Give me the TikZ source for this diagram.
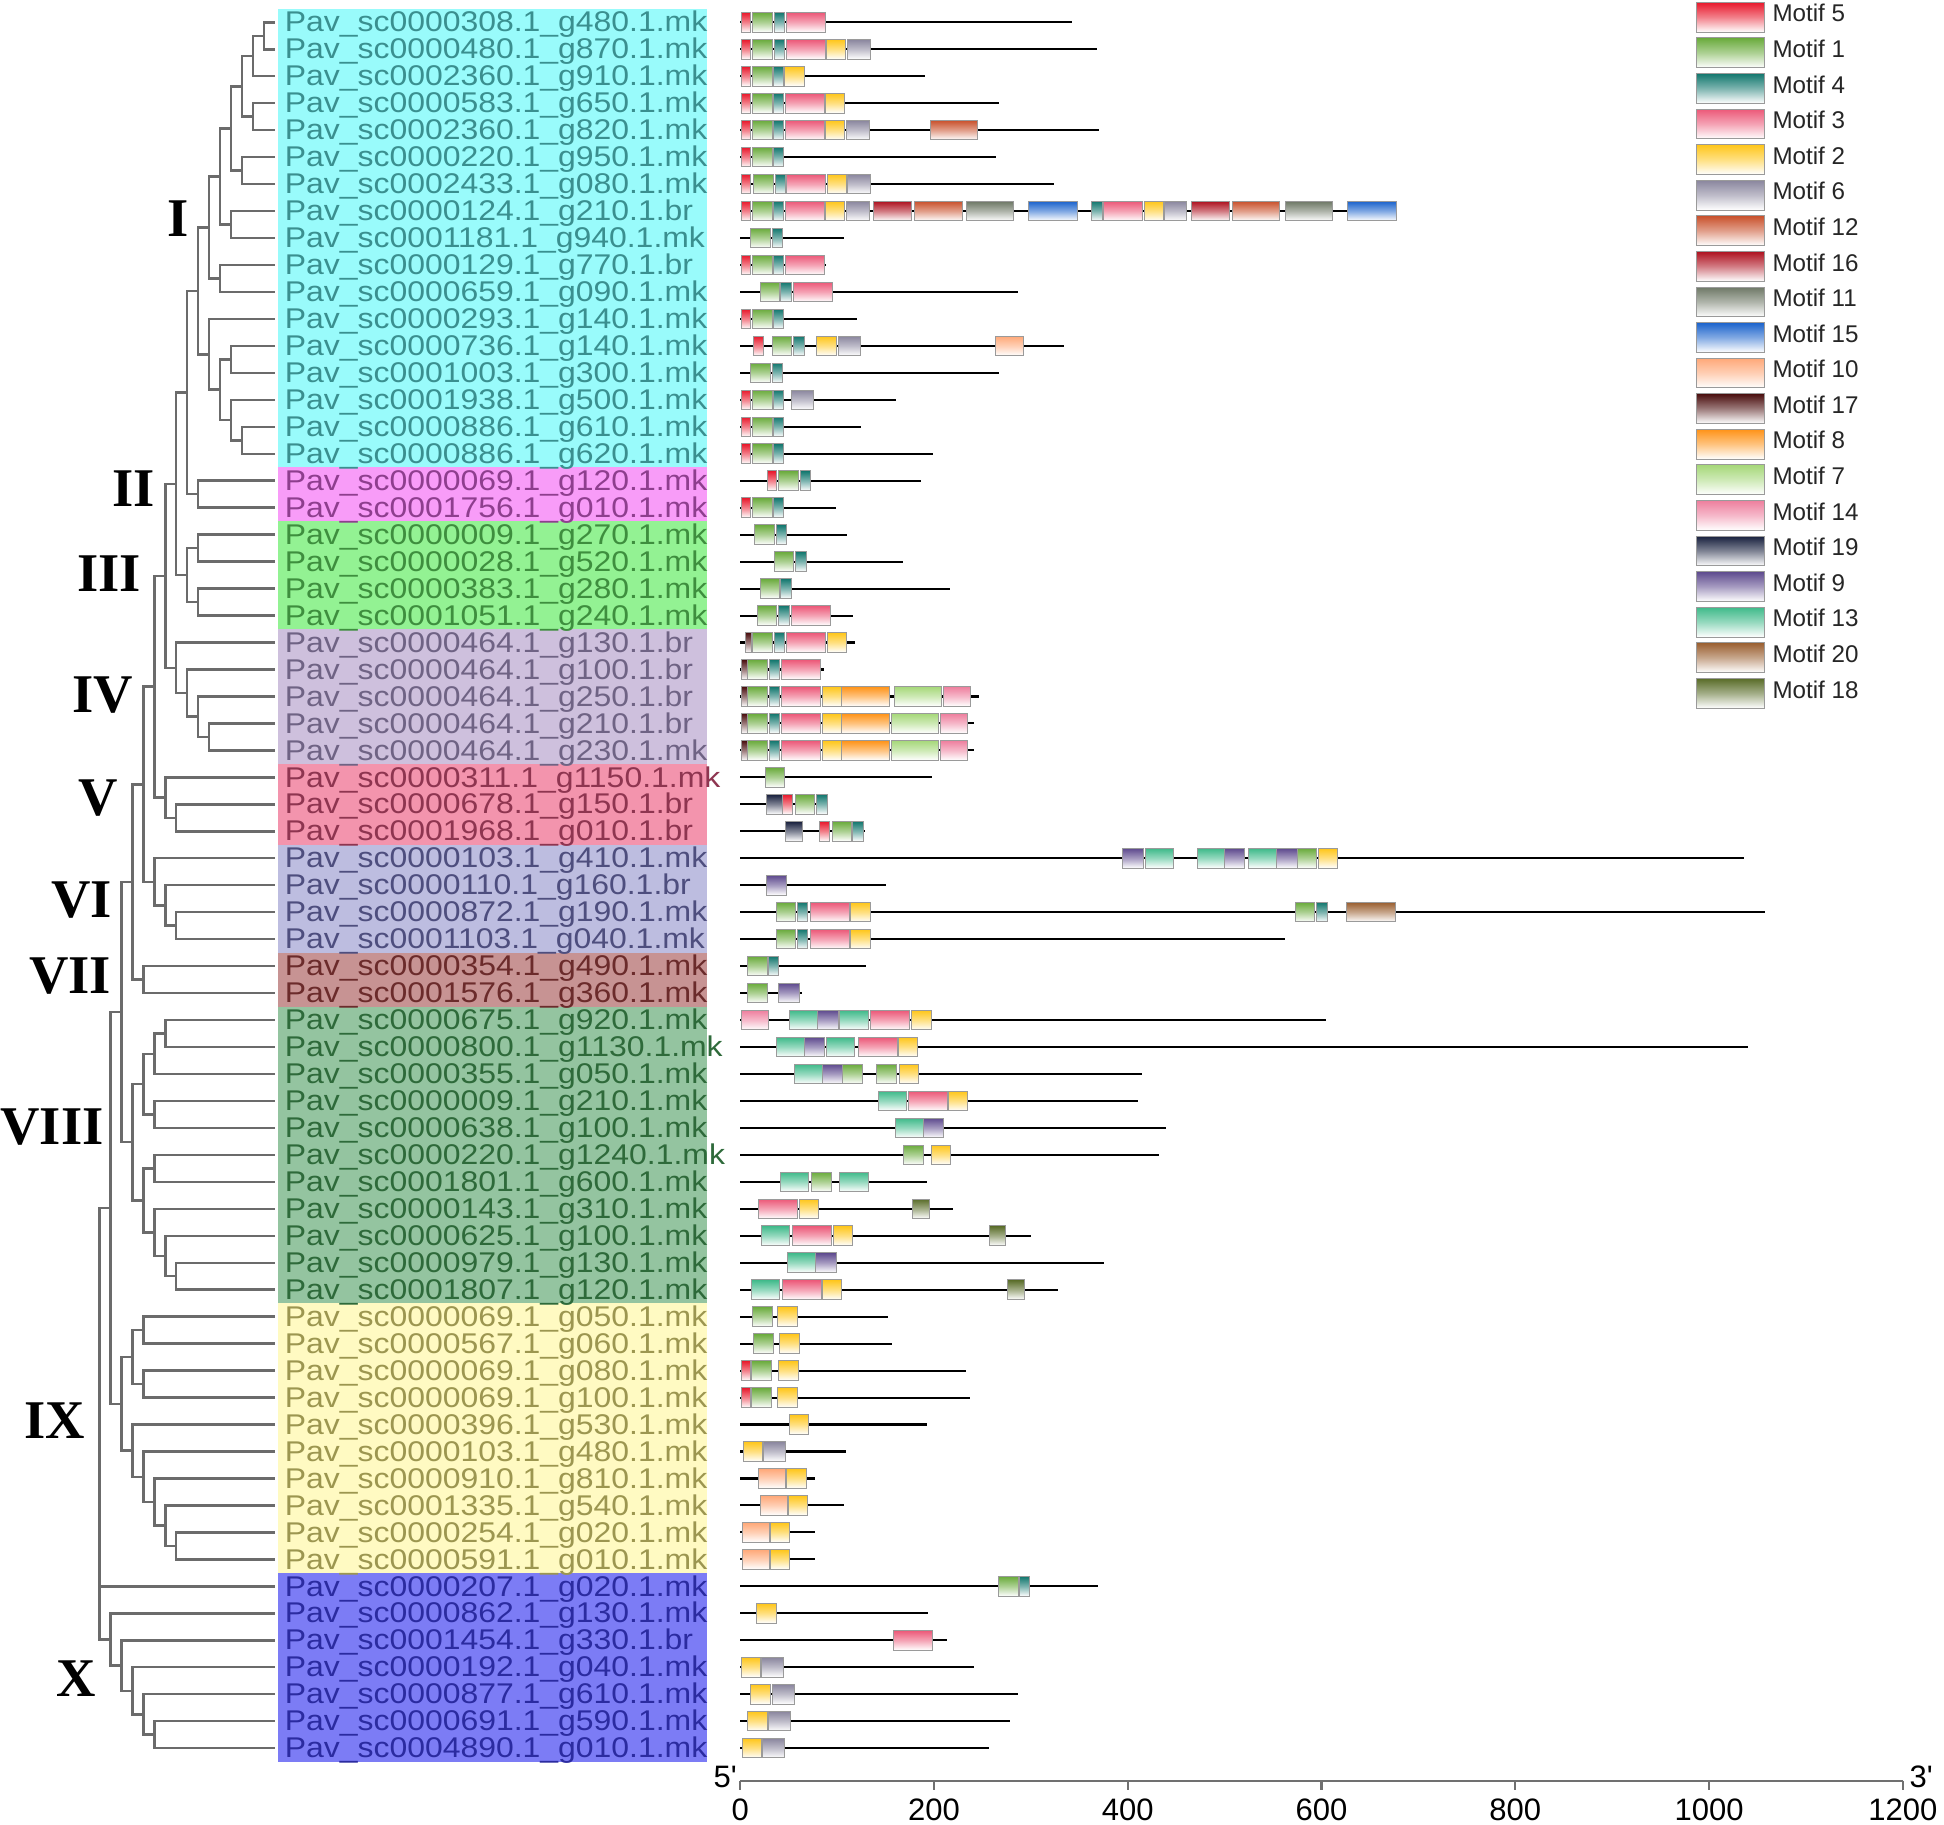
\documentclass[tikz,border=0pt]{standalone}
\usepackage{fontspec}
\newfontfamily\labfont[FakeStretch=1.12]{Liberation Sans}
\newfontfamily\sansf{Liberation Sans}
\newfontfamily\romfont{Liberation Serif}
\definecolor{m5}{HTML}{E8192C}
\definecolor{m1}{HTML}{6AAB3C}
\definecolor{m4}{HTML}{12776E}
\definecolor{m3}{HTML}{EC5878}
\definecolor{m2}{HTML}{FFC61A}
\definecolor{m6}{HTML}{8A869E}
\definecolor{m12}{HTML}{C9512C}
\definecolor{m16}{HTML}{AE111F}
\definecolor{m11}{HTML}{6E7866}
\definecolor{m15}{HTML}{1B63CC}
\definecolor{m10}{HTML}{FFA878}
\definecolor{m17}{HTML}{4A0E0E}
\definecolor{m8}{HTML}{FF9318}
\definecolor{m7}{HTML}{A6D87A}
\definecolor{m14}{HTML}{EE7F9E}
\definecolor{m19}{HTML}{18203E}
\definecolor{m9}{HTML}{5E4A8E}
\definecolor{m13}{HTML}{3FBA8A}
\definecolor{m20}{HTML}{9A5F30}
\definecolor{m18}{HTML}{596C28}
\definecolor{boxgray}{HTML}{9A9A9A}
\definecolor{treegray}{HTML}{6B6B6B}
\definecolor{axgray}{HTML}{707070}
\definecolor{tI}{HTML}{3A8F8F}\definecolor{bgI}{HTML}{99FBFB}
\definecolor{tII}{HTML}{8E3E8E}\definecolor{bgII}{HTML}{F89CF8}
\definecolor{tIII}{HTML}{3E8E3E}\definecolor{bgIII}{HTML}{93F293}
\definecolor{tIV}{HTML}{6F6384}\definecolor{bgIV}{HTML}{CEC0DD}
\definecolor{tV}{HTML}{8E3550}\definecolor{bgV}{HTML}{F394AD}
\definecolor{tVI}{HTML}{4E4E7E}\definecolor{bgVI}{HTML}{BDBDE0}
\definecolor{tVII}{HTML}{6B2B2B}\definecolor{bgVII}{HTML}{C79393}
\definecolor{tVIII}{HTML}{2E6A3A}\definecolor{bgVIII}{HTML}{94C4A0}
\definecolor{tIX}{HTML}{9C9650}\definecolor{bgIX}{HTML}{FFFAC2}
\definecolor{tX}{HTML}{2B2BA0}\definecolor{bgX}{HTML}{7C7CF5}
\def\mwarr{{0,20,20,40,11,10,23,49,49,21,28,48,49,29,28,50,39,7,17,17,50}}
\newcommand\xTn[3]{\coordinate (#1) at ({221.8-8.85*#2},{18+21.75*(#3)});}
\newcommand\xJn[3]{\draw[tree] (#2) -| (#1) |- (#3);}
\newcommand\xBr[2]{\draw[tree] (#1) |- (#2);}
\newcommand\xLab[5]{\node[lab,text=#2] (g#1) at (229.5,{18+21.75*#1+7.8}) {Pav\_sc#3.1\_g#4.1.#5};}
\newcommand\xGrp[3]{\fill[#1] (224,{18+21.75*(#2-0.5)}) rectangle (570,{18+21.75*(#3+0.5)});}
\newcommand\xGene[3]{%
  \draw[gline] (597,{18+21.75*#1}) -- ({597+0.7815*#2},{18+21.75*#1});
  \foreach \mm/\ss in {#3} {%
    \pgfmathsetmacro\ww{\mwarr[\mm]}%
    \path[mb=m\mm] ({597+0.7815*\ss},{18+21.75*#1-7.9}) rectangle ({597+0.7815*(\ss+\ww)},{18+21.75*#1+7.9});
  }%
}
\begin{document}
\begin{tikzpicture}[x=1pt,y=-1pt,
  tree/.style={draw=treegray,line width=2pt},
  gline/.style={draw=black,line width=1.7pt},
  mb/.style={draw=boxgray,line width=0.8pt,top color=#1,bottom color=white,middle color=#1!55},
  lab/.style={anchor=base west,inner sep=0pt,font=\labfont\fontsize{23}{23}\selectfont},
  rom/.style={anchor=center,inner sep=0pt,font=\romfont\bfseries\fontsize{44}{44}\selectfont},
  legt/.style={anchor=base west,inner sep=0pt,text=black!85,font=\sansf\fontsize{19.5}{19.5}\selectfont},
  axt/.style={anchor=base,inner sep=0pt,font=\sansf\fontsize{25}{25}\selectfont},
  axisl/.style={draw=axgray,line width=1.8pt}]
\fill[white] (0,0) rectangle (1568,1472);
\useasboundingbox (0,0) rectangle (1568,1472);
% group backgrounds
\xGrp{bgI}{0}{16}
\xGrp{bgII}{17}{18}
\xGrp{bgIII}{19}{22}
\xGrp{bgIV}{23}{27}
\xGrp{bgV}{28}{30}
\xGrp{bgVI}{31}{34}
\xGrp{bgVII}{35}{36}
\xGrp{bgVIII}{37}{47}
\xGrp{bgIX}{48}{57}
\xGrp{bgX}{58}{64}
% labels
\xLab{0}{tI}{0000308}{480}{mk}
\xLab{1}{tI}{0000480}{870}{mk}
\xLab{2}{tI}{0002360}{910}{mk}
\xLab{3}{tI}{0000583}{650}{mk}
\xLab{4}{tI}{0002360}{820}{mk}
\xLab{5}{tI}{0000220}{950}{mk}
\xLab{6}{tI}{0002433}{080}{mk}
\xLab{7}{tI}{0000124}{210}{br}
\xLab{8}{tI}{0001181}{940}{mk}
\xLab{9}{tI}{0000129}{770}{br}
\xLab{10}{tI}{0000659}{090}{mk}
\xLab{11}{tI}{0000293}{140}{mk}
\xLab{12}{tI}{0000736}{140}{mk}
\xLab{13}{tI}{0001003}{300}{mk}
\xLab{14}{tI}{0001938}{500}{mk}
\xLab{15}{tI}{0000886}{610}{mk}
\xLab{16}{tI}{0000886}{620}{mk}
\xLab{17}{tII}{0000069}{120}{mk}
\xLab{18}{tII}{0001756}{010}{mk}
\xLab{19}{tIII}{0000009}{270}{mk}
\xLab{20}{tIII}{0000028}{520}{mk}
\xLab{21}{tIII}{0000383}{280}{mk}
\xLab{22}{tIII}{0001051}{240}{mk}
\xLab{23}{tIV}{0000464}{130}{br}
\xLab{24}{tIV}{0000464}{100}{br}
\xLab{25}{tIV}{0000464}{250}{br}
\xLab{26}{tIV}{0000464}{210}{br}
\xLab{27}{tIV}{0000464}{230}{mk}
\xLab{28}{tV}{0000311}{1150}{mk}
\xLab{29}{tV}{0000678}{150}{br}
\xLab{30}{tV}{0001968}{010}{br}
\xLab{31}{tVI}{0000103}{410}{mk}
\xLab{32}{tVI}{0000110}{160}{br}
\xLab{33}{tVI}{0000872}{190}{mk}
\xLab{34}{tVI}{0001103}{040}{mk}
\xLab{35}{tVII}{0000354}{490}{mk}
\xLab{36}{tVII}{0001576}{360}{mk}
\xLab{37}{tVIII}{0000675}{920}{mk}
\xLab{38}{tVIII}{0000800}{1130}{mk}
\xLab{39}{tVIII}{0000355}{050}{mk}
\xLab{40}{tVIII}{0000009}{210}{mk}
\xLab{41}{tVIII}{0000638}{100}{mk}
\xLab{42}{tVIII}{0000220}{1240}{mk}
\xLab{43}{tVIII}{0001801}{600}{mk}
\xLab{44}{tVIII}{0000143}{310}{mk}
\xLab{45}{tVIII}{0000625}{100}{mk}
\xLab{46}{tVIII}{0000979}{130}{mk}
\xLab{47}{tVIII}{0001807}{120}{mk}
\xLab{48}{tIX}{0000069}{050}{mk}
\xLab{49}{tIX}{0000567}{060}{mk}
\xLab{50}{tIX}{0000069}{080}{mk}
\xLab{51}{tIX}{0000069}{100}{mk}
\xLab{52}{tIX}{0000396}{530}{mk}
\xLab{53}{tIX}{0000103}{480}{mk}
\xLab{54}{tIX}{0000910}{810}{mk}
\xLab{55}{tIX}{0001335}{540}{mk}
\xLab{56}{tIX}{0000254}{020}{mk}
\xLab{57}{tIX}{0000591}{010}{mk}
\xLab{58}{tX}{0000207}{020}{mk}
\xLab{59}{tX}{0000862}{130}{mk}
\xLab{60}{tX}{0001454}{330}{br}
\xLab{61}{tX}{0000192}{040}{mk}
\xLab{62}{tX}{0000877}{610}{mk}
\xLab{63}{tX}{0000691}{590}{mk}
\xLab{64}{tX}{0004890}{010}{mk}
% tree
\foreach \i in {0,...,64} {\coordinate (L\i) at (221.8,{18+21.75*\i});}
\xTn{n01}{1}{0.5}\xJn{n01}{L0}{L1}
\xTn{n012}{2}{1.25}\xJn{n012}{n01}{L2}
\xTn{n34}{2}{3.5}\xJn{n34}{L3}{L4}
\xTn{n04}{3}{2.375}\xJn{n04}{n012}{n34}
\xTn{n56}{3}{5.5}\xJn{n56}{L5}{L6}
\xTn{n06}{4}{3.9375}\xJn{n06}{n04}{n56}
\xTn{n78}{4}{7.5}\xJn{n78}{L7}{L8}
\xTn{n08}{5}{5.71875}\xJn{n08}{n06}{n78}
\xTn{n910}{5}{9.5}\xJn{n910}{L9}{L10}
\xTn{nA}{6}{7.609375}\xJn{nA}{n08}{n910}
\xTn{n1213}{4}{12.5}\xJn{n1213}{L12}{L13}
\xTn{n1516}{3}{15.5}\xJn{n1516}{L15}{L16}
\xTn{n1416}{4}{14.75}\xJn{n1416}{L14}{n1516}
\xTn{n1216}{5}{13.625}\xJn{n1216}{n1213}{n1416}
\xTn{nB}{6}{12.3125}\xJn{nB}{L11}{n1216}
\xTn{nI}{7}{9.9609}\xJn{nI}{nA}{nB}
\xTn{nII}{7}{17.5}\xJn{nII}{L17}{L18}
\xTn{nI2}{8}{13.7305}\xJn{nI2}{nI}{nII}
\xTn{n1920}{7}{19.5}\xJn{n1920}{L19}{L20}
\xTn{n2122}{7}{21.5}\xJn{n2122}{L21}{L22}
\xTn{nIII}{8}{20.5}\xJn{nIII}{n1920}{n2122}
\xTn{nI3}{9}{17.1152}\xJn{nI3}{nI2}{nIII}
\xTn{n2627}{6}{26.5}\xJn{n2627}{L26}{L27}
\xTn{n2527}{7}{25.75}\xJn{n2527}{L25}{n2627}
\xTn{n2427}{8}{24.875}\xJn{n2427}{L24}{n2527}
\xTn{nIV}{9}{23.9375}\xJn{nIV}{L23}{n2427}
\xTn{nI4}{10}{20.5264}\xJn{nI4}{nI3}{nIV}
\xTn{n2930}{9}{29.5}\xJn{n2930}{L29}{L30}
\xTn{nV}{10}{28.75}\xJn{nV}{L28}{n2930}
\xTn{nI5}{11}{24.6382}\xJn{nI5}{nI4}{nV}
\xTn{n3334}{9}{33.5}\xJn{n3334}{L33}{L34}
\xTn{n3234}{10}{32.75}\xJn{n3234}{L32}{n3334}
\xTn{nVI}{11}{31.875}\xJn{nVI}{L31}{n3234}
\xTn{nI6}{12}{28.2566}\xJn{nI6}{nI5}{nVI}
\xTn{nVII}{12}{35.5}\xJn{nVII}{L35}{L36}
\xTn{nI7}{13}{31.8783}\xJn{nI7}{nI6}{nVII}
\xTn{n3738}{10}{37.5}\xJn{n3738}{L37}{L38}
\xTn{n3739}{11}{38.25}\xJn{n3739}{n3738}{L39}
\xTn{n4041}{11}{40.5}\xJn{n4041}{L40}{L41}
\xTn{n3741}{12}{39.375}\xJn{n3741}{n3739}{n4041}
\xTn{n4243}{11}{42.5}\xJn{n4243}{L42}{L43}
\xTn{n4647}{9}{46.5}\xJn{n4647}{L46}{L47}
\xTn{n4547}{10}{45.75}\xJn{n4547}{L45}{n4647}
\xTn{n4447}{11}{44.875}\xJn{n4447}{L44}{n4547}
\xTn{n4247}{12}{43.6875}\xJn{n4247}{n4243}{n4447}
\xTn{nVIII}{13}{41.53125}\xJn{nVIII}{n3741}{n4247}
\xTn{nI8}{14}{36.7048}\xJn{nI8}{nI7}{nVIII}
\xTn{n4849}{12}{48.5}\xJn{n4849}{L48}{L49}
\xTn{n5051}{12}{50.5}\xJn{n5051}{L50}{L51}
\xTn{n4851}{13}{49.5}\xJn{n4851}{n4849}{n5051}
\xTn{n5657}{9}{56.5}\xJn{n5657}{L56}{L57}
\xTn{n5557}{10}{55.75}\xJn{n5557}{L55}{n5657}
\xTn{n5457}{11}{54.875}\xJn{n5457}{L54}{n5557}
\xTn{n5357}{12}{53.9375}\xJn{n5357}{L53}{n5457}
\xTn{n5257}{13}{52.96875}\xJn{n5257}{L52}{n5357}
\xTn{nIX}{14}{51.2344}\xJn{nIX}{n4851}{n5257}
\xTn{nI9}{15}{43.9696}\xJn{nI9}{nI8}{nIX}
\xTn{n6364}{11}{63.5}\xJn{n6364}{L63}{L64}
\xTn{n6264}{12}{62.75}\xJn{n6264}{L62}{n6364}
\xTn{n6164}{13}{61.875}\xJn{n6164}{L61}{n6264}
\xTn{n6064}{14}{60.9375}\xJn{n6064}{L60}{n6164}
\xTn{n5964}{15}{59.96875}\xJn{n5964}{L59}{n6064}
\xTn{root}{16}{51.97}\xJn{root}{nI9}{n5964}\xBr{root}{L58}
% clade numerals
\node[rom] (cI) at (143.5,176) {I};
\node[rom] (cII) at (107.8,394) {II};
\node[rom] (cIII) at (88,463) {III};
\node[rom] (cIV) at (83,561) {IV};
\node[rom] (cV) at (79,644) {V};
\node[rom] (cVI) at (65.6,726) {VI};
\node[rom] (cVII) at (56.5,787) {VII};
\node[rom] (cVIII) at (42,909) {VIII};
\node[rom] (cIX) at (44,1146) {IX};
\node[rom] (cX) at (61.2,1354) {X};
% gene structures
\xGene{0}{342}{5/1,1/13,4/35,3/48}
\xGene{1}{368}{5/1,1/13,4/35,3/48,2/89,6/111}
\xGene{2}{191}{5/1,1/13,4/34,2/46}
\xGene{3}{267}{5/1,1/13,4/34,3/47,2/88}
\xGene{4}{370}{5/1,1/13,4/34,3/47,2/88,6/110,12/196}
\xGene{5}{264}{5/1,1/13,4/34}
\xGene{6}{324}{5/1,1/14,4/36,3/48,2/90,6/111}
\xGene{7}{678}{5/1,1/13,4/34,3/47,2/88,6/110,16/138,12/180,11/234,15/298,4/363,3/375,2/417,6/438,16/466,12/508,11/563,15/627}
\xGene{8}{107}{1/11,4/33}
\xGene{9}{89}{5/1,1/13,4/34,3/47}
\xGene{10}{287}{1/21,4/42,3/55}
\xGene{11}{121}{5/1,1/13,4/34}
\xGene{12}{334}{5/14,1/33,4/55,2/79,6/101,10/264}
\xGene{13}{267}{1/11,4/33}
\xGene{14}{161}{5/1,1/13,4/34,6/53}
\xGene{15}{125}{5/1,1/13,4/34}
\xGene{16}{199}{5/1,1/13,4/34}
\xGene{17}{187}{5/28,1/40,4/62}
\xGene{18}{99}{5/1,1/13,4/34}
\xGene{19}{110}{1/15,4/37}
\xGene{20}{168}{1/35,4/57}
\xGene{21}{217}{1/21,4/42}
\xGene{22}{116}{1/18,4/40,3/53}
\xGene{23}{119}{17/5,1/13,4/35,3/48,2/90}
\xGene{24}{87}{17/1,1/8,4/30,3/43}
\xGene{25}{246}{17/1,1/8,4/30,3/43,2/85,8/105,7/159,14/210}
\xGene{26}{241}{17/1,1/8,4/30,3/43,2/85,8/105,7/156,14/207}
\xGene{27}{241}{17/1,1/8,4/30,3/43,2/85,8/105,7/156,14/207}
\xGene{28}{198}{1/26}
\xGene{29}{90}{19/27,5/44,1/57,4/79}
\xGene{30}{129}{19/47,5/82,1/95,4/116}
\xGene{31}{1036}{9/395,13/418,13/472,9/500,13/525,9/554,1/575,2/597}
\xGene{32}{151}{9/27}
\xGene{33}{1058}{1/37,4/59,3/73,2/114,1/573,4/595,20/626}
\xGene{34}{562}{1/37,4/59,3/73,2/114}
\xGene{35}{130}{1/8,4/29}
\xGene{36}{64}{1/8,9/40}
\xGene{37}{605}{14/1,13/51,9/80,13/103,3/135,2/177}
\xGene{38}{1040}{13/37,9/66,13/89,3/122,2/163}
\xGene{39}{415}{13/56,9/85,1/106,1/141,2/164}
\xGene{40}{411}{13/143,3/174,2/215}
\xGene{41}{439}{13/160,9/189}
\xGene{42}{432}{1/169,2/197}
\xGene{43}{193}{13/42,1/74,13/103}
\xGene{44}{220}{3/19,2/61,18/178}
\xGene{45}{300}{13/22,3/54,2/96,18/257}
\xGene{46}{375}{13/49,9/78}
\xGene{47}{328}{13/12,3/44,2/85,18/276}
\xGene{48}{153}{1/13,2/39}
\xGene{49}{157}{1/14,2/41}
\xGene{50}{233}{5/1,1/12,2/40}
\xGene{51}{237}{5/1,1/12,2/39}
\xGene{52}{193}{2/51}
\xGene{53}{109}{2/3,6/24}
\xGene{54}{77}{10/19,2/48}
\xGene{55}{107}{10/21,2/50}
\xGene{56}{77}{10/2,2/31}
\xGene{57}{77}{10/2,2/31}
\xGene{58}{369}{1/267,4/288}
\xGene{59}{194}{2/17}
\xGene{60}{213}{3/158}
\xGene{61}{241}{2/1,6/22}
\xGene{62}{287}{2/11,6/33}
\xGene{63}{278}{2/8,6/29}
\xGene{64}{257}{2/2,6/23}
% legend
\foreach \m [count=\i from 0] in {5,1,4,3,2,6,12,16,11,15,10,17,8,7,14,19,9,13,20,18} {
  \path[mb=m\m] (1368,{1.9+28.7*\i}) rectangle (1423,{25.9+28.7*\i});
  \node[legt] (leg\m) at (1429.5,{17.7+28.7*\i}) {Motif \m};
}
% axis
\coordinate (ax0) at (597,1436.5);
\coordinate (ax1) at (1535,1436.5);
\draw[axisl] (ax0) -- (ax1);
\foreach \v in {0,200,...,1200} {
  \draw[axisl] ({597+0.7815*\v},1436.5) -- ++(0,7.5);
  \node[axt] (t\v) at ({597+0.7815*\v},1468) {\v};
}
\node[axt,anchor=base east] (p5) at (594.5,1442) {5\textquotesingle};
\node[axt,anchor=base west] (p3) at (1540,1442) {3\textquotesingle};
\end{tikzpicture}
\end{document}
